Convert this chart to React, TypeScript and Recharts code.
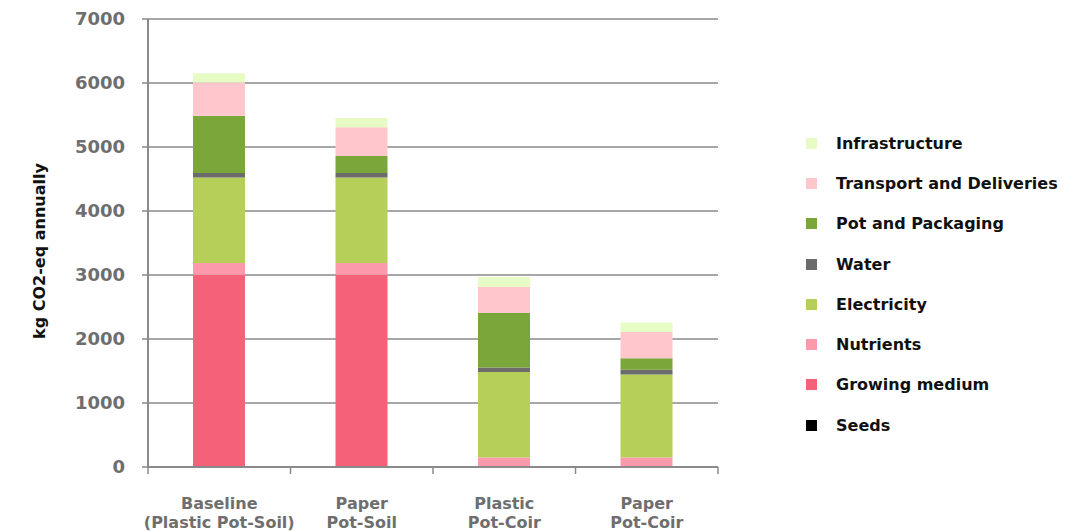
import React from "react";
import {
  BarChart,
  Bar,
  XAxis,
  YAxis,
  CartesianGrid,
  Legend,
} from "recharts";

// categories (two-line labels)
const categories = [
  "Baseline\n(Plastic Pot-Soil)",
  "Paper\nPot-Soil",
  "Plastic\nPot-Coir",
  "Paper\nPot-Coir",
];

// series values, kg CO2-eq annually (bottom to top of the stack)
const seeds = [3, 3, 3, 3];
const growingMedium = [3000, 3000, 0, 0];
const nutrients = [183, 183, 145, 145];
const electricity = [1337, 1337, 1335, 1298];
const water = [70, 70, 70, 75];
const potPackaging = [895, 265, 855, 180];
const transport = [520, 450, 405, 410];
const infrastructure = [146, 146, 155, 146];

const yTicks = [0, 1000, 2000, 3000, 4000, 5000, 6000, 7000];

const SERIES = [
  { key: "seeds", name: "Seeds", values: seeds, color: "#000000" },
  { key: "growing", name: "Growing medium", values: growingMedium, color: "#F6617A" },
  { key: "nutrients", name: "Nutrients", values: nutrients, color: "#FC9AAB" },
  { key: "electricity", name: "Electricity", values: electricity, color: "#B5CF58" },
  { key: "water", name: "Water", values: water, color: "#6B6B6B" },
  { key: "pot", name: "Pot and Packaging", values: potPackaging, color: "#7BA63A" },
  { key: "transport", name: "Transport and Deliveries", values: transport, color: "#FFC7CC" },
  { key: "infra", name: "Infrastructure", values: infrastructure, color: "#E6FCC4" },
];

const data = categories.map((cat, i) => {
  const row: Record<string, any> = { cat };
  SERIES.forEach((s) => (row[s.key] = s.values[i]));
  return row;
});

const FONT = "'DejaVu Sans', sans-serif";
const GRAY = "#8a8a8a";
const LEGEND_W = 260;

// category label + tick marks on the band edges (like the original)
function CategoryTick(props: any) {
  const { x, y, payload, index, width, visibleTicksCount } = props;
  const lines = String(payload.value).split("\n");
  const half = width / (visibleTicksCount || categories.length) / 2;
  const isLast = index === (visibleTicksCount || categories.length) - 1;
  return (
    <g>
      <line x1={x - half} y1={y} x2={x - half} y2={y + 7} stroke={GRAY} strokeWidth={1.5} />
      {isLast && (
        <line x1={x + half} y1={y} x2={x + half} y2={y + 7} stroke={GRAY} strokeWidth={1.5} />
      )}
      <text
        x={x}
        y={y}
        textAnchor="middle"
        fontFamily={FONT}
        fontWeight={700}
        fontSize={16}
        fill="#6e6e6e"
      >
        {lines.map((l, i) => (
          <tspan key={i} x={x} dy={i === 0 ? 42 : 19}>
            {l}
          </tspan>
        ))}
      </text>
    </g>
  );
}

function LegendList(props: any) {
  const items = [...(props.payload || [])].sort(
    (a: any, b: any) =>
      SERIES.findIndex((s) => s.name === b.value) -
      SERIES.findIndex((s) => s.name === a.value)
  );
  return (
    <div style={{ fontFamily: FONT, fontWeight: 700, fontSize: 16, color: "#111" }}>
      {items.map((it: any) => (
        <div
          key={it.value}
          style={{ display: "flex", alignItems: "center", height: 40.3 }}
        >
          <span
            style={{
              display: "inline-block",
              width: 11,
              height: 11,
              background: it.color,
              marginRight: 19,
            }}
          />
          <span>{it.value}</span>
        </div>
      ))}
    </div>
  );
}

export default function App() {
  return (
    <div
      style={{
        position: "absolute",
        left: 0,
        top: 0,
        width: 1074,
        height: 532,
        background: "#fff",
      }}
    >
      <BarChart
        width={1074}
        height={532}
        data={data}
        margin={{ top: 19, right: 356 - LEGEND_W, bottom: 0, left: 0 }}
        barSize={52}
      >
        <CartesianGrid vertical={false} stroke={GRAY} strokeWidth={1.5} />
        <XAxis
          dataKey="cat"
          height={65}
          axisLine={{ stroke: GRAY, strokeWidth: 2 }}
          tickLine={false}
          tickSize={0}
          tickMargin={0}
          interval={0}
          tick={<CategoryTick />}
        />
        <YAxis
          width={148}
          domain={[0, 7000]}
          ticks={yTicks}
          interval={0}
          axisLine={{ stroke: GRAY, strokeWidth: 2 }}
          tickLine={{ stroke: GRAY, strokeWidth: 1.5 }}
          tickSize={6}
          tickMargin={17}
          tick={{ fontFamily: FONT, fontWeight: 700, fontSize: 18, fill: "#6e6e6e" }}
          label={{
            content: (p: any) => {
              const vb = p.viewBox || { x: 0, y: 19, width: 148, height: 448 };
              const cx = vb.x + 39;
              const cy = vb.y + vb.height / 2 + 8;
              return (
                <text
                  x={cx}
                  y={cy}
                  transform={`rotate(-90 ${cx} ${cy})`}
                  textAnchor="middle"
                  dominantBaseline="central"
                  fontFamily={FONT}
                  fontWeight={700}
                  fontSize={16}
                  fill="#111"
                >
                  kg CO2-eq annually
                </text>
              );
            },
          }}
        />
        {SERIES.map((s) => (
          <Bar
            key={s.key}
            dataKey={s.key}
            name={s.name}
            stackId="a"
            fill={s.color}
            isAnimationActive={false}
          />
        ))}
        <Legend
          layout="vertical"
          align="right"
          verticalAlign="top"
          content={<LegendList />}
          wrapperStyle={{ left: 806, top: 123, width: LEGEND_W }}
        />
      </BarChart>
    </div>
  );
}
